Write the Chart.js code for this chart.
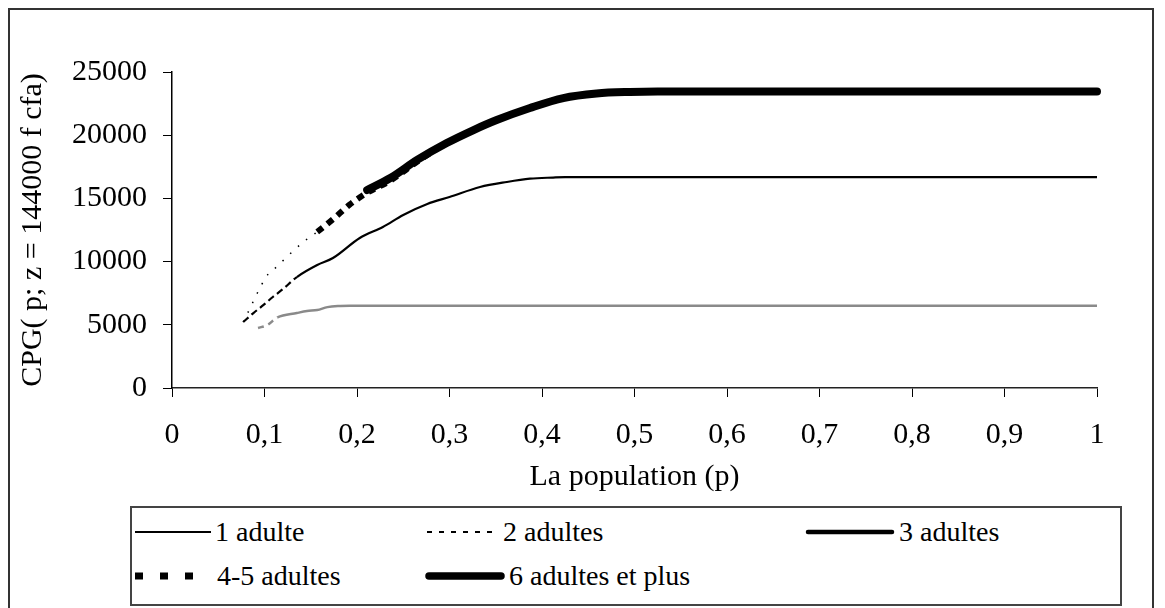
<!DOCTYPE html>
<html>
<head>
<meta charset="utf-8">
<script src="https://cdn.jsdelivr.net/npm/chart.js@4"></script>
<style>
  body { margin: 0; background: #fff; }
  #wrap { position: relative; width: 1165px; height: 608px; overflow: hidden; font-family: 'Liberation Serif', 'Times New Roman', serif; }
  #frame { position: absolute; left: 8px; top: 8px; width: 1146px; height: 640px; border: 2px solid #333; box-sizing: border-box; pointer-events: none; }
  #legend { position: absolute; left: 130px; top: 506px; width: 992px; height: 100px; border: 2px solid #444; box-sizing: border-box; background: #fff; }
  .item { position: absolute; height: 40px; display: flex; align-items: center; font-size: 28px; color: #000; white-space: nowrap; }
  .item svg { display: block; margin-right: 4px; }
  canvas { position: absolute; left: 0; top: 0; }
</style>
</head>
<body>
<div id="wrap">
  <canvas id="cpgChart" width="1165" height="608"></canvas>
  <div id="frame"></div>
  <div id="legend"></div>
</div>
<script>
const seriesLabels = ['1 adulte', '2 adultes', '3 adultes', '4-5 adultes', '6 adultes et plus'];
const xTickLabels = ['0', '0,1', '0,2', '0,3', '0,4', '0,5', '0,6', '0,7', '0,8', '0,9', '1'];
const yTickLabels = ['0', '5000', '10000', '15000', '20000', '25000'];

// 1 adulte (grey curve, flat at ~6500)
const pOne = [0.093, 0.103, 0.114, 0.135, 0.146, 0.157, 0.168, 0.182, 0.192, 1.0];
const cpgOne = [4750, 4980, 5580, 5930, 6090, 6170, 6400, 6490, 6510, 6510];

// 2 adultes (thin black curve, flat at ~16650)
const pTwo = [0.077, 0.088, 0.099, 0.109, 0.12, 0.135, 0.157, 0.174, 0.203, 0.228, 0.25, 0.276, 0.30, 0.333, 0.362, 0.387, 0.412, 0.425, 1.0];
const cpgTwo = [5220, 5930, 6570, 7200, 7830, 8780, 9730, 10280, 11870, 12740, 13690, 14560, 15110, 15900, 16300, 16560, 16650, 16680, 16680];

// 3, 4-5 and 6+ adultes share the upper curve
const pTop = [0.077, 0.104, 0.113, 0.124, 0.142, 0.157, 0.174, 0.192, 0.211, 0.236, 0.265, 0.297, 0.326, 0.351, 0.387, 0.423, 0.459, 0.495, 0.525, 1.0];
const cpgThree = [null, null, null, null, null, null, null, null, 15660, 16610, 18040, 19380, 20410, 21200, 22150, 22940, 23300, 23420, 23450, 23450];
const cpgFourFive = [5220, 9020, 9570, 10360, 11550, 12350, 13350, 14500, 15450, 16400, 17900, 19380, 20410, 21200, 22150, 22940, 23300, 23420, 23450, 23450];
const cpgSixPlus = [null, null, null, null, null, null, null, null, 15660, 16610, 18040, 19380, 20410, 21200, 22150, 22940, 23300, 23420, 23450, 23450];

function pts(xs, ys) {
  return xs.map((x, i) => ({ x: x, y: ys[i] })).filter(d => d.y !== null);
}

const serif = 'Liberation Serif';

const datasets = [
  {
    label: seriesLabels[0], data: pts(pOne, cpgOne),
    borderColor: '#8a8a8a', borderWidth: 2.5, order: 4,
    segment: { borderDash: ctx => ctx.p0.parsed.x < 0.11 ? [6, 5] : undefined }
  },
  {
    label: seriesLabels[1], data: pts(pTwo, cpgTwo),
    borderColor: '#000', borderWidth: 2.2, order: 3,
    segment: { borderDash: ctx => ctx.p0.parsed.x < 0.125 ? [7, 4] : undefined }
  },
  {
    label: seriesLabels[2], data: pts(pTop, cpgThree),
    borderColor: '#000', borderWidth: 5, order: 2
  },
  {
    label: seriesLabels[3], data: pts(pTop, cpgFourFive),
    borderColor: '#000', borderWidth: 6, borderDash: [7, 6], order: 1,
    segment: {
      borderWidth: ctx => ctx.p0.parsed.x < 0.15 ? 1.5 : undefined,
      borderDash: ctx => ctx.p0.parsed.x < 0.15 ? [1.5, 9] : undefined
    }
  },
  {
    label: seriesLabels[4], data: pts(pTop, cpgSixPlus),
    borderColor: '#000', borderWidth: 8, borderCapStyle: 'round', borderJoinStyle: 'round', order: 0
  }
];

new Chart(document.getElementById('cpgChart'), {
  type: 'line',
  data: { datasets: datasets },
  options: {
    responsive: false,
    animation: false,
    layout: { padding: { left: 0, right: 68, top: 72, bottom: 0 } },
    elements: {
      point: { radius: 0 },
      line: { cubicInterpolationMode: 'monotone', fill: false }
    },
    datasets: { line: { clip: false } },
    plugins: { legend: { display: false }, tooltip: { enabled: false } },
    scales: {
      x: {
        type: 'linear', min: 0, max: 1,
        afterFit: s => { s.height = 220; },
        ticks: {
          stepSize: 0.1, autoSkip: false, maxRotation: 0, padding: 20,
          color: '#000', font: { family: serif, size: 30 },
          callback: (v, i) => xTickLabels[i]
        },
        grid: { drawOnChartArea: false, drawTicks: true, tickLength: 9, color: '#000' },
        border: { display: true, color: '#222', width: 1.5 },
        title: {
          display: true, text: 'La population (p)', color: '#000',
          font: { family: serif, size: 30 }, padding: { top: 0, bottom: 113 }
        }
      },
      y: {
        min: 0, max: 25000,
        afterFit: s => { s.width = 172; },
        ticks: {
          stepSize: 5000, padding: 16, color: '#000',
          font: { family: serif, size: 30 },
          callback: (v, i) => yTickLabels[i]
        },
        grid: { drawOnChartArea: false, drawTicks: true, tickLength: 9, color: '#000' },
        border: { display: true, color: '#000', width: 1.5 },
        title: {
          display: true, text: 'CPG( p; z = 144000 f cfa)', color: '#000',
          font: { family: serif, size: 30 }, padding: { top: 15, bottom: 0 }
        }
      }
    }
  }
});

// legend laid out like the original two-row box
const legendItems = [
  { i: 0, left: 135, top: 512, w: 76, svg: '<line x1="0" y1="20" x2="76" y2="20" stroke="#000" stroke-width="2"/>' },
  { i: 1, left: 427, top: 512, w: 72, svg: '<line x1="0" y1="20" x2="72" y2="20" stroke="#000" stroke-width="2" stroke-dasharray="5 7"/>' },
  { i: 2, left: 805, top: 512, w: 90, svg: '<line x1="3" y1="20" x2="87" y2="20" stroke="#000" stroke-width="4.5" stroke-linecap="round"/>' },
  { i: 3, left: 135, top: 556, w: 78, svg: '<line x1="0" y1="20" x2="60" y2="20" stroke="#000" stroke-width="7" stroke-dasharray="8 17"/>' },
  { i: 4, left: 425, top: 556, w: 80, svg: '<line x1="4" y1="20" x2="76" y2="20" stroke="#000" stroke-width="7.5" stroke-linecap="round"/>' }
];
const wrap = document.getElementById('wrap');
legendItems.forEach(it => {
  const d = document.createElement('div');
  d.className = 'item';
  d.style.left = it.left + 'px';
  d.style.top = it.top + 'px';
  d.innerHTML = '<svg width="' + it.w + '" height="40">' + it.svg + '</svg><span>' + seriesLabels[it.i] + '</span>';
  wrap.appendChild(d);
});
</script>
</body>
</html>
